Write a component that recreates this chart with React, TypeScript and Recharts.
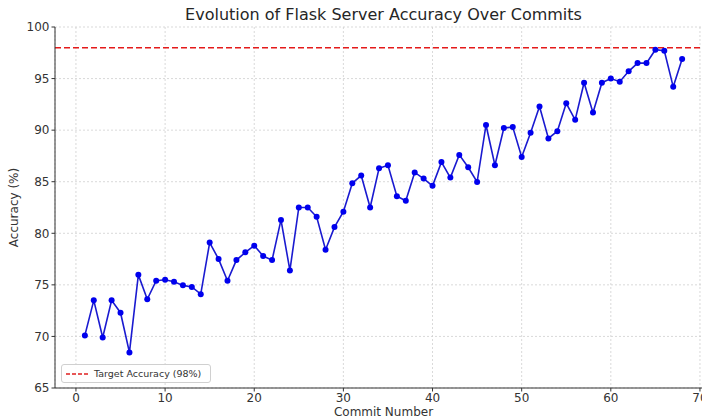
import React from 'react';
import { LineChart, Line, XAxis, YAxis, CartesianGrid, ReferenceLine } from 'recharts';

const commits: number[] = Array.from({ length: 68 }, (_, i) => i + 1);
const accuracy: number[] = [
  70.1, 73.5, 69.9, 73.5, 72.3, 68.45, 75.97, 73.6, 75.4, 75.5,
  75.3, 74.95, 74.8, 74.1, 79.1, 77.5, 75.4, 77.4, 78.15, 78.8,
  77.8, 77.4, 81.3, 76.4, 82.5, 82.5, 81.6, 78.4, 80.6, 82.1,
  84.85, 85.6, 82.5, 86.3, 86.6, 83.6, 83.15, 85.9, 85.3, 84.6,
  86.9, 85.4, 87.6, 86.4, 84.97, 90.5, 86.6, 90.2, 90.3, 87.4,
  89.75, 92.3, 89.2, 89.9, 92.6, 91.0, 94.6, 91.7, 94.6, 95.0,
  94.7, 95.7, 96.5, 96.5, 97.8, 97.7, 94.2, 96.9,
];
const targetAccuracy = 98;
const xTicks: number[] = [0, 10, 20, 30, 40, 50, 60, 70];
const yTicks: number[] = [65, 70, 75, 80, 85, 90, 95, 100];

const data = commits.map((c, i) => ({ commit: c, accuracy: accuracy[i] }));

const FONT = '"DejaVu Sans", Verdana, sans-serif';

const LegendBox = () => (
  <div
    style={{
      position: 'absolute',
      left: 61,
      top: 364,
      width: 150,
      height: 19,
      border: '1px solid #d0d0d0',
      borderRadius: 3,
      background: 'rgba(255,255,255,0.9)',
      display: 'flex',
      alignItems: 'center',
      fontFamily: FONT,
      fontSize: 9.5,
      color: '#333',
      boxSizing: 'border-box',
      zIndex: 2,
    }}
  >
    <svg width={30} height={10} style={{ marginLeft: 2 }}>
      <line x1={2} y1={5} x2={24} y2={5} stroke="#e02020" strokeWidth={1.5} strokeDasharray="4 2" />
    </svg>
    <span>Target Accuracy (98%)</span>
  </div>
);

export default function App() {
  return (
    <div style={{ position: 'absolute', left: 0, top: 0, width: 702, height: 419, overflow: 'hidden', background: '#fff' }}>
      <div
        style={{
          position: 'absolute',
          left: 0,
          top: 5,
          width: 767,
          textAlign: 'center',
          fontFamily: FONT,
          fontSize: 16,
          color: '#262626',
          zIndex: 2,
        }}
      >
        Evolution of Flask Server Accuracy Over Commits
      </div>
      <LineChart
        width={720}
        height={419}
        data={data}
        margin={{ top: 27, right: 8, bottom: 0, left: 0 }}
        style={{ fontFamily: FONT }}
      >
        <CartesianGrid stroke="#cfcfcf" strokeDasharray="2 2" strokeWidth={0.8} />
        <XAxis
          dataKey="commit"
          type="number"
          domain={[-2.35, 71.35]}
          ticks={xTicks}
          allowDataOverflow
          height={31}
          tickSize={3.5}
          tickMargin={2}
          stroke="#333"
          tick={{ fill: '#333', fontSize: 12 }}
          label={{ value: 'Commit Number', position: 'insideBottom', offset: 3, fill: '#333', fontSize: 12 }}
        />
        <YAxis
          type="number"
          domain={[65, 100]}
          ticks={yTicks}
          allowDataOverflow
          width={55}
          tickSize={3.5}
          tickMargin={2}
          stroke="#333"
          tick={{ fill: '#333', fontSize: 12 }}
          label={{ value: 'Accuracy (%)', angle: -90, position: 'insideLeft', offset: 14, fill: '#333', fontSize: 12, style: { textAnchor: 'middle' } }}
        />
        <ReferenceLine y={targetAccuracy} stroke="#e41a1a" strokeWidth={1.5} strokeDasharray="6 3" ifOverflow="extendDomain" />
        <Line
          type="linear"
          dataKey="accuracy"
          stroke="#1a1ad0"
          strokeWidth={1.6}
          dot={{ r: 3, fill: '#0000ee', stroke: '#0000ee', strokeWidth: 0 }}
          activeDot={false}
          isAnimationActive={false}
        />
      </LineChart>
      <LegendBox />
    </div>
  );
}
